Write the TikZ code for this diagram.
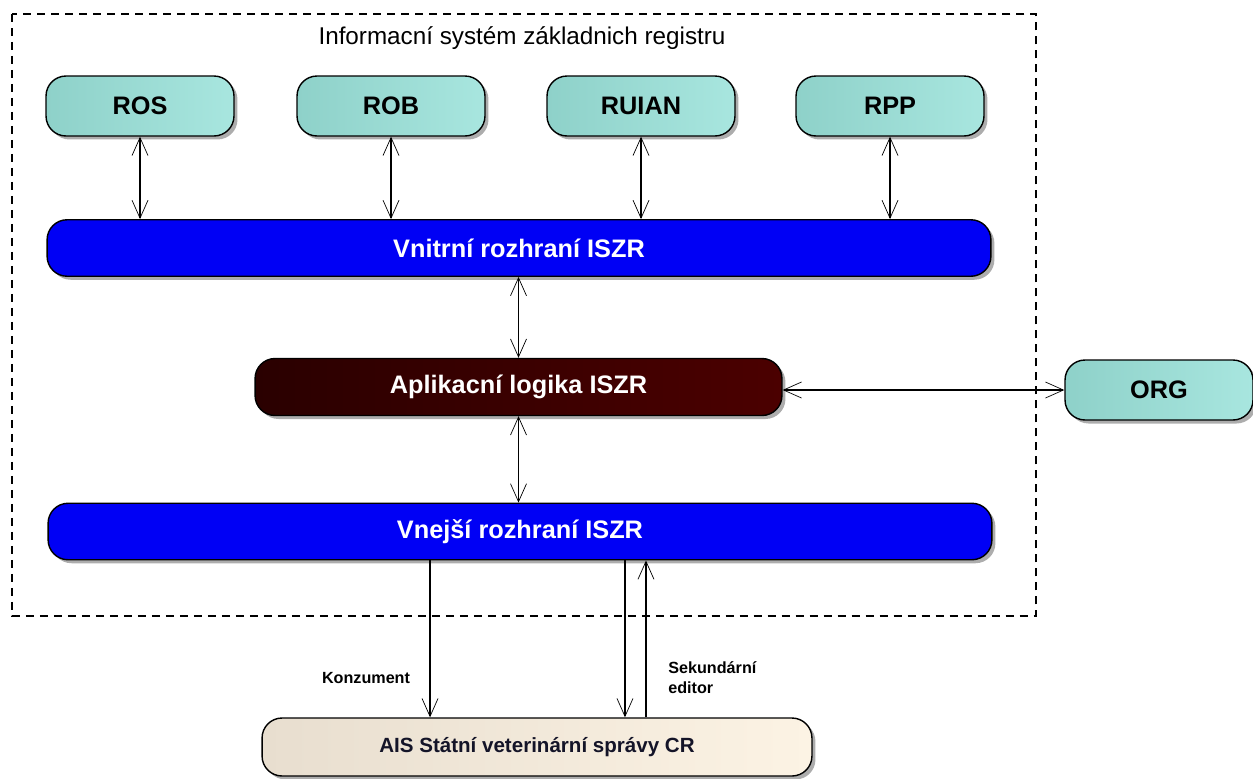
\documentclass[tikz,border=0pt]{standalone}
\usepackage{fontspec}
\setmainfont{Liberation Sans}
\usepackage{xcolor}
\usepackage{tikz}
\usetikzlibrary{shapes,arrows,arrows.meta,shadows}

\definecolor{tealL}{RGB}{142,209,201}
\definecolor{tealR}{RGB}{168,230,223}
\definecolor{ifblue}{RGB}{0,0,245}
\definecolor{logL}{RGB}{42,0,0}
\definecolor{logR}{RGB}{75,0,0}
\definecolor{aisL}{RGB}{232,222,207}
\definecolor{aisR}{RGB}{252,243,228}
\definecolor{aistext}{RGB}{20,20,40}

\begin{document}
\begin{tikzpicture}[
	x=0.02cm, y=-0.02cm,
	shade/.style={drop shadow={shadow xshift=0.07cm, shadow yshift=-0.07cm, fill=black!40, opacity=0.8}},
	regbox/.style={draw, line width=0.8pt, rounded corners=0.4cm, shade, left color=tealL, right color=tealR, minimum width=3.76cm, minimum height=1.2cm, inner sep=0, font=\fontsize{14.4}{16}\bfseries\selectfont},
	bar/.style={draw, line width=0.8pt, rounded corners=0.4cm, shade, fill=ifblue, text=white, minimum width=18.88cm, minimum height=1.13cm, inner sep=0, font=\fontsize{14.4}{16}\bfseries\selectfont},
	logic/.style={draw, line width=0.8pt, rounded corners=0.4cm, shade, left color=logL, right color=logR, text=white, minimum width=10.54cm, minimum height=1.14cm, inner sep=0, font=\fontsize{14.4}{16}\bfseries\selectfont},
	aisbox/.style={draw, line width=0.8pt, rounded corners=0.4cm, shade, left color=aisL, right color=aisR, text=aistext, minimum width=11cm, minimum height=1.16cm, inner sep=0, font=\fontsize{11.7}{14}\bfseries\selectfont},
	lbl/.style={font=\fontsize{9.2}{11.3}\bfseries\selectfont, inner sep=0, align=left},
	arr/.style={line width=0.6pt, {Straight Barb[length=0.36cm,width=0.32cm,line width=0.4pt]}-{Straight Barb[length=0.36cm,width=0.32cm,line width=0.4pt]}},
	arrd/.style={line width=0.6pt, -{Straight Barb[length=0.36cm,width=0.32cm,line width=0.4pt]}}
]
\useasboundingbox (0,0) rectangle (1253,778);

% boundary of ISZR
\draw[line width=0.7pt, dash pattern=on 0.16cm off 0.12cm] (12,14) rectangle (1036,616);
\node[font=\fontsize{13.8}{16}\selectfont] (title) at (522,38) {Informacní systém základnich registru};

% registers
\node[regbox] (ros) at (140,106) {ROS};
\node[regbox] (rob) at (391,106) {ROB};
\node[regbox] (ruian) at (641,106) {RUIAN};
\node[regbox] (rpp) at (890,106) {RPP};

% layers
\node[bar] (vnitrni) at (519,248) {Vnitrní rozhraní ISZR};
\node[logic] (logika) at (518.5,387) {Aplikacní logika ISZR};
\node[bar] (vnejsi) at (520,531.5) {Vnejší rozhraní ISZR};

\node[regbox] (org) at (1159,390) {ORG};
\node[aisbox] (ais) at (537,747) {AIS Státní veterinární správy CR};

\draw[arr] (ros.south) -- (ros.south |- vnitrni.north);
\draw[arr] (rob.south) -- (rob.south |- vnitrni.north);
\draw[arr] (ruian.south) -- (ruian.south |- vnitrni.north);
\draw[arr] (rpp.south) -- (rpp.south |- vnitrni.north);

\draw[arr] (vnitrni.south -| logika.north) -- (logika.north);
\draw[arr] (logika.south) -- (logika.south |- vnejsi.north);
\draw[arr] (logika.east |- org.west) -- (org.west);

\draw[arrd] ([xshift=-1.8cm]vnejsi.south) -- ([xshift=-1.8cm]vnejsi.south |- ais.north);
\draw[arrd] ([xshift=2.1cm]vnejsi.south) -- ([xshift=2.1cm]vnejsi.south |- ais.north);
\draw[arrd] ([xshift=2.52cm]vnejsi.south |- ais.north) -- ([xshift=2.52cm]vnejsi.south);

\node[lbl] (konz) at (366,678) {Konzument};
\node[lbl, anchor=north west] (sek) at (668,661) {Sekundární\\editor};
\end{tikzpicture}
\end{document}
